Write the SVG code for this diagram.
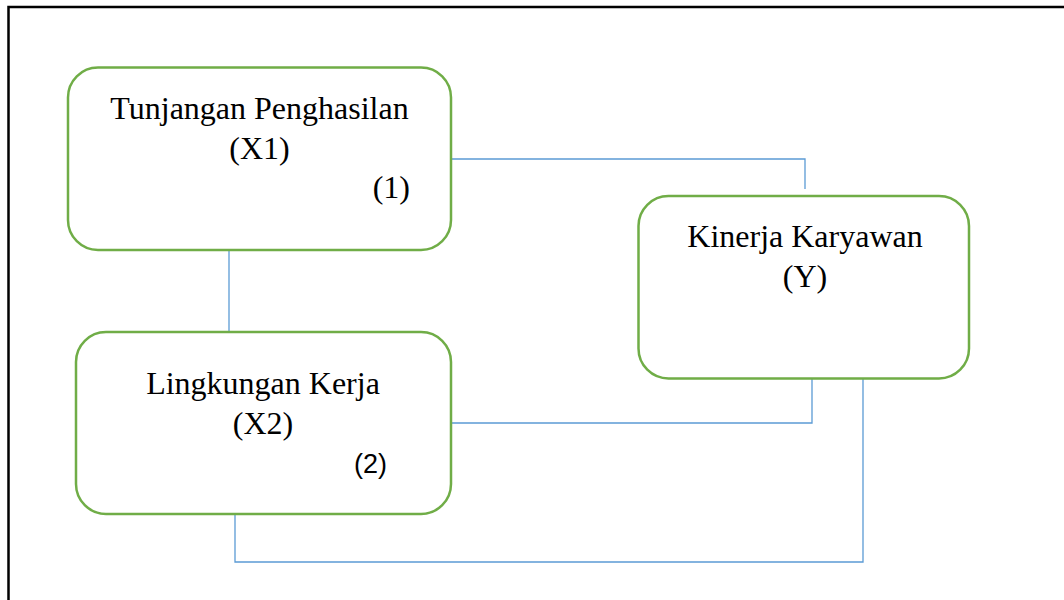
<svg xmlns="http://www.w3.org/2000/svg" width="1064" height="600" viewBox="0 0 1064 600">
<style>
.frame{fill:none;stroke:#000;stroke-width:2.5}
.box{fill:#fff;stroke:#70AD47;stroke-width:2.5}
.conn{fill:none;stroke:#5B9BD5;stroke-width:1.3}
.t{font-family:"Liberation Serif","Times New Roman",serif;font-size:32px;fill:#000;text-anchor:middle}
.num{font-family:"Liberation Serif","Times New Roman",serif;font-size:32px;fill:#000;text-anchor:end}
.num2{font-family:"Liberation Sans",Arial,sans-serif;font-size:27px;fill:#000;text-anchor:end}
</style>
<rect width="1064" height="600" fill="#fff"/>
<rect class="frame" x="8.5" y="7" width="1070" height="610"/>
<g id="connectors">
<polyline class="conn" points="451,159 805,159 805,189"/>
<line class="conn" x1="229" y1="250" x2="229" y2="332"/>
<polyline class="conn" points="451,423 812,423 812,378"/>
<polyline class="conn" points="235,514 235,562 863,562 863,378"/>
</g>
<g id="node-x1">
<rect class="box" x="68" y="67.5" width="383" height="182.5" rx="30" ry="30"/>
<text class="t" x="259.5" y="119">Tunjangan Penghasilan</text>
<text class="t" x="259.5" y="159">(X1)</text>
<text class="num" x="410" y="198">(1)</text>
</g>
<g id="node-x2">
<rect class="box" x="76" y="332" width="375" height="182" rx="30" ry="30"/>
<text class="t" x="263" y="394">Lingkungan Kerja</text>
<text class="t" x="263" y="434">(X2)</text>
<text class="num2" x="387" y="473">(2)</text>
</g>
<g id="node-y">
<rect class="box" x="638.5" y="196" width="330.5" height="182.5" rx="30" ry="30"/>
<text class="t" x="805" y="247">Kinerja Karyawan</text>
<text class="t" x="805" y="287">(Y)</text>
</g>
</svg>
